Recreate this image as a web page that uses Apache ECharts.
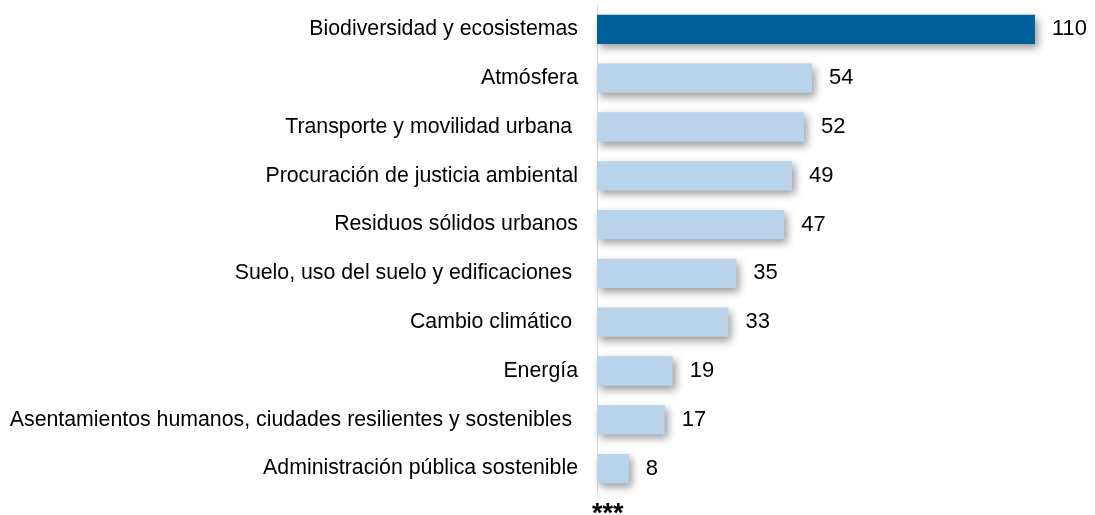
<!DOCTYPE html>
<html><head><meta charset="utf-8">
<script src="https://cdn.jsdelivr.net/npm/echarts@6/dist/echarts.min.js"></script>
<style>html,body{margin:0;padding:0;background:#fff}#c{width:1095px;height:515px}</style>
</head><body><div id="c"></div>
<script>
const categories = [
  "Biodiversidad y ecosistemas",
  "Atmósfera",
  "Transporte y movilidad urbana ",
  "Procuración de justicia ambiental",
  "Residuos sólidos urbanos",
  "Suelo, uso del suelo y edificaciones ",
  "Cambio climático ",
  "Energía",
  "Asentamientos humanos, ciudades resilientes y sostenibles ",
  "Administración pública sostenible"
];
const values = [110, 54, 52, 49, 47, 35, 33, 19, 17, 8];
const highlightIndex = [0];
const footnote = "***";

const chart = echarts.init(document.getElementById('c'));
chart.setOption({
  animation: false,
  grid: { left: 597, right: 60, top: 5, bottom: 22 },
  xAxis: { type: 'value', min: 0, max: 110, show: false },
  yAxis: {
    type: 'category', data: categories, inverse: true,
    axisLine: { show: true, lineStyle: { color: '#D9D9D9', width: 1 } },
    axisTick: { show: false },
    axisLabel: { color: '#000', fontFamily: 'Liberation Sans, Arial, sans-serif', fontSize: 21.3, margin: 19 }
  },
  series: [{
    type: 'bar',
    barCategoryGap: '40%',
    data: values.map((v, i) => ({
      value: v,
      itemStyle: { color: highlightIndex.includes(i) ? '#00609A' : '#B9D3EA' }
    })),
    itemStyle: { shadowColor: 'rgba(0,0,0,0.4)', shadowBlur: 8, shadowOffsetX: 3, shadowOffsetY: 4 },
    label: { show: true, position: 'right', distance: 17, color: '#000',
      fontFamily: 'Liberation Sans, Arial, sans-serif', fontSize: 22 }
  }],
  graphic: [{ type: 'text', left: 592, top: 501,
    style: { text: footnote, fill: '#000', font: 'bold 27px Liberation Sans, Arial, sans-serif' } }]
});
</script></body></html>
